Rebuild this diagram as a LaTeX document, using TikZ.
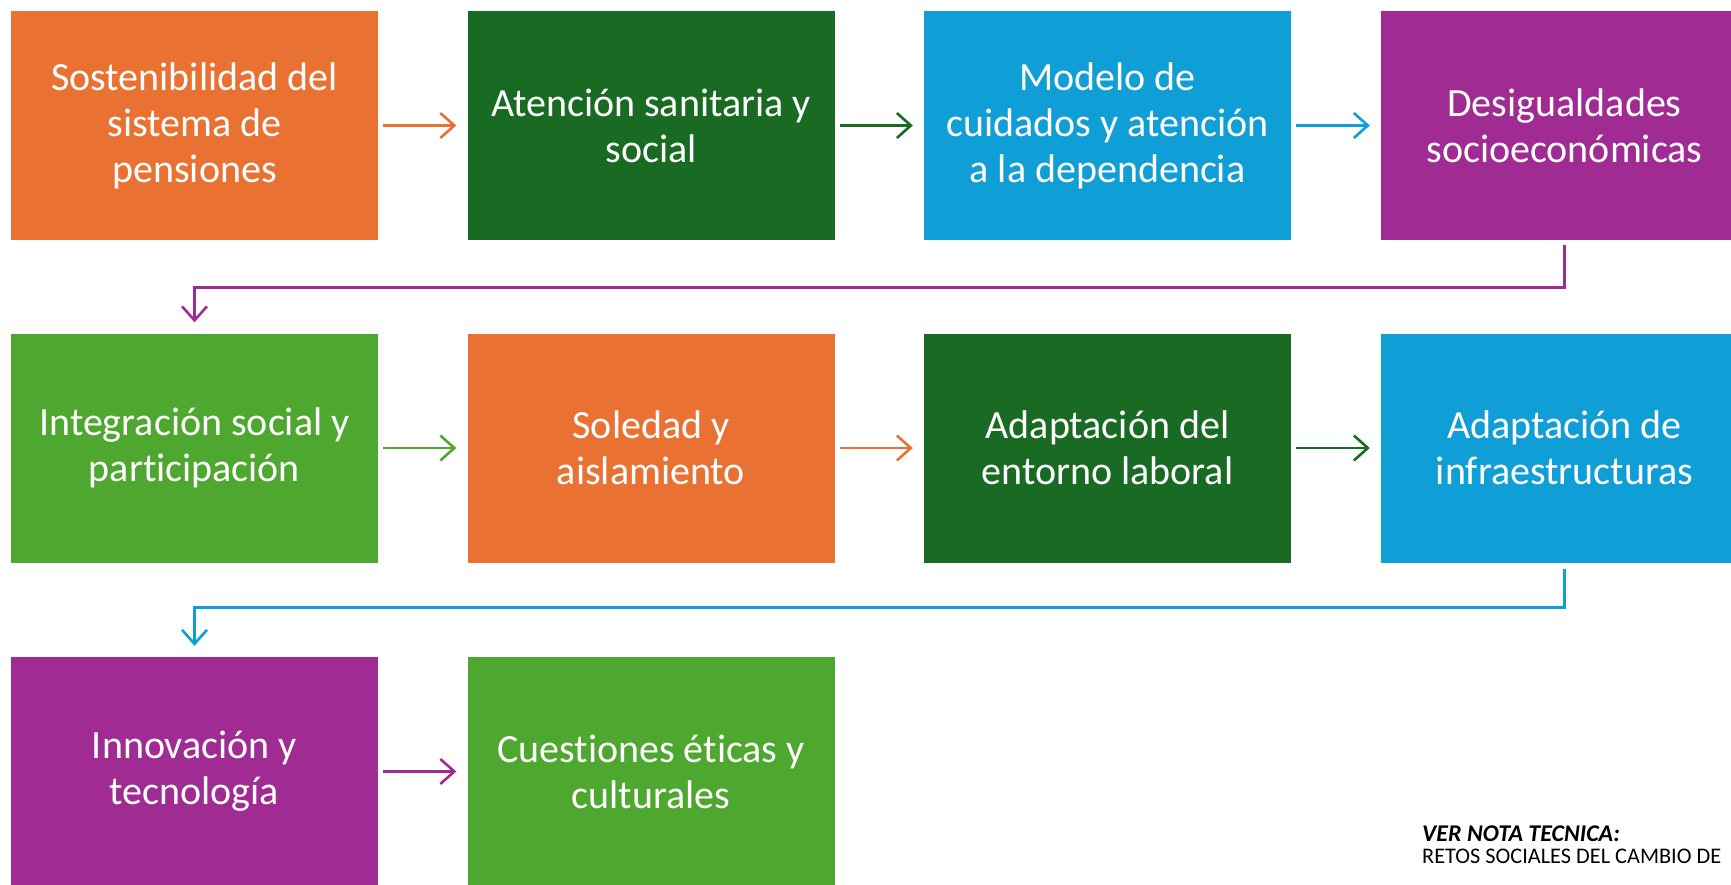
\documentclass[tikz,border=0pt]{standalone}
\usepackage{fontspec}
\setmainfont[Ligatures=NoCommon]{Carlito}
\usetikzlibrary{arrows.meta}
\definecolor{cOrange}{HTML}{E97132}
\definecolor{cDGreen}{HTML}{196B24}
\definecolor{cBlue}{HTML}{0F9ED5}
\definecolor{cPurple}{HTML}{A02B93}
\definecolor{cGreen}{HTML}{4EA72E}
\tikzset{
  box/.style={rectangle, minimum width=367pt, minimum height=229pt, inner sep=0pt,
    text=white, align=center, font=\fontsize{40}{46}\selectfont},
  conn/.style={line width=2.6pt, -{Straight Barb[length=14pt,width=25pt,line width=2.6pt]}},
  hconn/.style={conn, shorten <=5pt, shorten >=11pt},
  note/.style={anchor=base west, inner sep=0pt, text=black, font=\fontsize{22.3}{22}\selectfont}
}
\begin{document}
\begin{tikzpicture}[x=1pt,y=-1pt]
\useasboundingbox (0,0) rectangle (1731,884);
\clip (0,0) rectangle (1731,884);
% row 1
\node[box, fill=cOrange] (n1) at (194.5,125.5) {Sostenibilidad del\\sistema de\\pensiones};
\node[box, fill=cDGreen] (n2) at (651,125.5) {Atención sanitaria y\\social};
\node[box, fill=cBlue] (n3) at (1107.5,125.5) {Modelo de\\cuidados y atención\\a la dependencia};
\node[box, fill=cPurple] (n4) at (1564.5,125.5) {Desigualdades\\socioeconómicas};
% row 2
\node[box, fill=cGreen] (n5) at (194.5,448) {Integración social y\\participación};
\node[box, fill=cOrange] (n6) at (651,448) {Soledad y\\aislamiento};
\node[box, fill=cDGreen] (n7) at (1107.5,448) {Adaptación del\\entorno laboral};
\node[box, fill=cBlue] (n8) at (1564.5,448) {Adaptación de\\infraestructuras};
% row 3
\node[box, fill=cPurple] (n9) at (194.5,771.5) {Innovación y\\tecnología};
\node[box, fill=cGreen] (n10) at (651,771.5) {Cuestiones éticas y\\culturales};
% arrows
\draw[hconn, cOrange] (n1.east) -- (n2.west);
\draw[hconn, cDGreen] (n2.east) -- (n3.west);
\draw[hconn, cBlue] (n3.east) -- (n4.west);
\draw[hconn, cGreen] (n5.east) -- (n6.west);
\draw[hconn, cOrange] (n6.east) -- (n7.west);
\draw[hconn, cDGreen] (n7.east) -- (n8.west);
\draw[hconn, cPurple] (n9.east) -- (n10.west);
\draw[conn, cPurple] ([yshift=-5pt]n4.south) -- ++(0,42) -| ([yshift=11pt]n5.north);
\draw[conn, cBlue] ([yshift=-6pt]n8.south) -- ++(0,39) -| ([yshift=11pt]n9.north);
% note
\node[note, font=\fontsize{24}{22}\selectfont\bfseries\itshape] (t1) at (1422,841) {VER NOTA TECNICA:};
\node[note] (t2) at (1422,863) {RETOS SOCIALES DEL CAMBIO DE};
\end{tikzpicture}
\end{document}
